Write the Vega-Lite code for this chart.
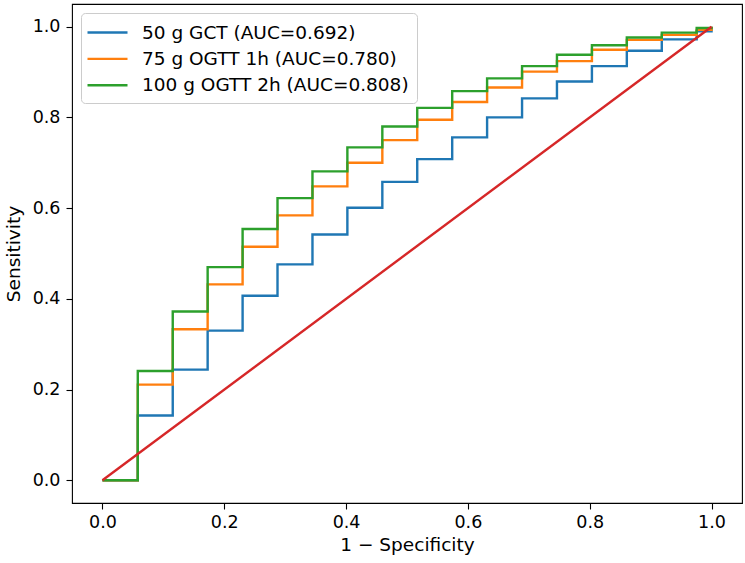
{
  "$schema": "https://vega.github.io/schema/vega-lite/v6.json",
  "width": 670,
  "height": 499,
  "autosize": {"type": "none"},
  "padding": {"left": 72, "top": 4, "right": 3, "bottom": 60},
  "background": "white",
  "config": {
    "font": "DejaVu Sans",
    "view": {"stroke": "#000000", "strokeWidth": 1.1},
    "axis": {
      "domain": false,
      "grid": false,
      "tickColor": "#000000",
      "tickSize": 6,
      "tickWidth": 1.1,
      "labelFont": "DejaVu Sans",
      "labelFontSize": 17.5,
      "labelColor": "#000000",
      "titleFont": "DejaVu Sans",
      "titleFontSize": 18.5,
      "titleFontWeight": "normal",
      "titleColor": "#000000"
    }
  },
  "datasets": {
    "roc": [
      {"series": "50 g GCT (AUC=0.692)", "x": 0.0, "y": 0.0},
      {"series": "50 g GCT (AUC=0.692)", "x": 0.0580, "y": 0.143},
      {"series": "50 g GCT (AUC=0.692)", "x": 0.1154, "y": 0.244},
      {"series": "50 g GCT (AUC=0.692)", "x": 0.1727, "y": 0.330},
      {"series": "50 g GCT (AUC=0.692)", "x": 0.2301, "y": 0.407},
      {"series": "50 g GCT (AUC=0.692)", "x": 0.2874, "y": 0.476},
      {"series": "50 g GCT (AUC=0.692)", "x": 0.3448, "y": 0.542},
      {"series": "50 g GCT (AUC=0.692)", "x": 0.4021, "y": 0.601},
      {"series": "50 g GCT (AUC=0.692)", "x": 0.4595, "y": 0.658},
      {"series": "50 g GCT (AUC=0.692)", "x": 0.5168, "y": 0.708},
      {"series": "50 g GCT (AUC=0.692)", "x": 0.5742, "y": 0.756},
      {"series": "50 g GCT (AUC=0.692)", "x": 0.6315, "y": 0.800},
      {"series": "50 g GCT (AUC=0.692)", "x": 0.6889, "y": 0.842},
      {"series": "50 g GCT (AUC=0.692)", "x": 0.7462, "y": 0.879},
      {"series": "50 g GCT (AUC=0.692)", "x": 0.8036, "y": 0.913},
      {"series": "50 g GCT (AUC=0.692)", "x": 0.8609, "y": 0.947},
      {"series": "50 g GCT (AUC=0.692)", "x": 0.9183, "y": 0.972},
      {"series": "50 g GCT (AUC=0.692)", "x": 0.9756, "y": 0.990},
      {"series": "50 g GCT (AUC=0.692)", "x": 1.0, "y": 1.0},
      {"series": "75 g OGTT 1h (AUC=0.780)", "x": 0.0, "y": 0.0},
      {"series": "75 g OGTT 1h (AUC=0.780)", "x": 0.0580, "y": 0.211},
      {"series": "75 g OGTT 1h (AUC=0.780)", "x": 0.1154, "y": 0.333},
      {"series": "75 g OGTT 1h (AUC=0.780)", "x": 0.1727, "y": 0.432},
      {"series": "75 g OGTT 1h (AUC=0.780)", "x": 0.2301, "y": 0.515},
      {"series": "75 g OGTT 1h (AUC=0.780)", "x": 0.2874, "y": 0.584},
      {"series": "75 g OGTT 1h (AUC=0.780)", "x": 0.3448, "y": 0.648},
      {"series": "75 g OGTT 1h (AUC=0.780)", "x": 0.4021, "y": 0.700},
      {"series": "75 g OGTT 1h (AUC=0.780)", "x": 0.4595, "y": 0.750},
      {"series": "75 g OGTT 1h (AUC=0.780)", "x": 0.5168, "y": 0.795},
      {"series": "75 g OGTT 1h (AUC=0.780)", "x": 0.5742, "y": 0.834},
      {"series": "75 g OGTT 1h (AUC=0.780)", "x": 0.6315, "y": 0.866},
      {"series": "75 g OGTT 1h (AUC=0.780)", "x": 0.6889, "y": 0.901},
      {"series": "75 g OGTT 1h (AUC=0.780)", "x": 0.7462, "y": 0.924},
      {"series": "75 g OGTT 1h (AUC=0.780)", "x": 0.8036, "y": 0.949},
      {"series": "75 g OGTT 1h (AUC=0.780)", "x": 0.8609, "y": 0.971},
      {"series": "75 g OGTT 1h (AUC=0.780)", "x": 0.9183, "y": 0.982},
      {"series": "75 g OGTT 1h (AUC=0.780)", "x": 0.9756, "y": 0.993},
      {"series": "75 g OGTT 1h (AUC=0.780)", "x": 1.0, "y": 1.0},
      {"series": "100 g OGTT 2h (AUC=0.808)", "x": 0.0, "y": 0.0},
      {"series": "100 g OGTT 2h (AUC=0.808)", "x": 0.0580, "y": 0.241},
      {"series": "100 g OGTT 2h (AUC=0.808)", "x": 0.1154, "y": 0.372},
      {"series": "100 g OGTT 2h (AUC=0.808)", "x": 0.1727, "y": 0.470},
      {"series": "100 g OGTT 2h (AUC=0.808)", "x": 0.2301, "y": 0.554},
      {"series": "100 g OGTT 2h (AUC=0.808)", "x": 0.2874, "y": 0.622},
      {"series": "100 g OGTT 2h (AUC=0.808)", "x": 0.3448, "y": 0.681},
      {"series": "100 g OGTT 2h (AUC=0.808)", "x": 0.4021, "y": 0.734},
      {"series": "100 g OGTT 2h (AUC=0.808)", "x": 0.4595, "y": 0.780},
      {"series": "100 g OGTT 2h (AUC=0.808)", "x": 0.5168, "y": 0.821},
      {"series": "100 g OGTT 2h (AUC=0.808)", "x": 0.5742, "y": 0.858},
      {"series": "100 g OGTT 2h (AUC=0.808)", "x": 0.6315, "y": 0.886},
      {"series": "100 g OGTT 2h (AUC=0.808)", "x": 0.6889, "y": 0.913},
      {"series": "100 g OGTT 2h (AUC=0.808)", "x": 0.7462, "y": 0.938},
      {"series": "100 g OGTT 2h (AUC=0.808)", "x": 0.8036, "y": 0.959},
      {"series": "100 g OGTT 2h (AUC=0.808)", "x": 0.8609, "y": 0.976},
      {"series": "100 g OGTT 2h (AUC=0.808)", "x": 0.9183, "y": 0.987},
      {"series": "100 g OGTT 2h (AUC=0.808)", "x": 0.9756, "y": 0.997},
      {"series": "100 g OGTT 2h (AUC=0.808)", "x": 1.0, "y": 1.0}
    ],
    "diag": [
      {"x": 0.0, "y": 0.0},
      {"x": 1.0, "y": 1.0}
    ]
  },
  "layer": [
    {
      "data": {"name": "roc"},
      "mark": {"type": "line", "interpolate": "step-after", "strokeWidth": 2.4, "clip": true},
      "encoding": {
        "x": {
          "field": "x", "type": "quantitative",
          "scale": {"domain": [-0.05, 1.05], "nice": false, "zero": false},
          "axis": {"values": [0, 0.2, 0.4, 0.6, 0.8, 1.0], "format": ".1f", "labelPadding": 4, "title": "1 − Specificity", "titlePadding": 5}
        },
        "y": {
          "field": "y", "type": "quantitative",
          "scale": {"domain": [-0.05, 1.05], "nice": false, "zero": false},
          "axis": {"values": [0, 0.2, 0.4, 0.6, 0.8, 1.0], "format": ".1f", "labelPadding": 6, "title": "Sensitivity", "titlePadding": 9}
        },
        "color": {
          "field": "series", "type": "nominal",
          "sort": ["50 g GCT (AUC=0.692)", "75 g OGTT 1h (AUC=0.780)", "100 g OGTT 2h (AUC=0.808)"],
          "scale": {
            "domain": ["50 g GCT (AUC=0.692)", "75 g OGTT 1h (AUC=0.780)", "100 g OGTT 2h (AUC=0.808)"],
            "range": ["#1f77b4", "#ff7f0e", "#2ca02c"]
          },
          "legend": {
            "title": null,
            "orient": "none",
            "legendX": 9,
            "legendY": 9,
            "symbolType": "M-1.3,0H2.7",
            "symbolSize": 400,
            "symbolStrokeWidth": 2.4,
            "labelFontSize": 18.5,
            "labelFont": "DejaVu Sans",
            "labelColor": "#000000",
            "labelLimit": 500,
            "labelOffset": 30,
            "rowPadding": 5.4,
            "padding": 8,
            "strokeColor": "#cccccc",
            "fillColor": "#ffffff",
            "cornerRadius": 4
          }
        },
        "order": {"field": "x", "type": "quantitative"}
      }
    },
    {
      "data": {"name": "diag"},
      "mark": {"type": "line", "color": "#d62728", "strokeWidth": 2.4},
      "encoding": {
        "x": {"field": "x", "type": "quantitative"},
        "y": {"field": "y", "type": "quantitative"}
      }
    }
  ]
}
